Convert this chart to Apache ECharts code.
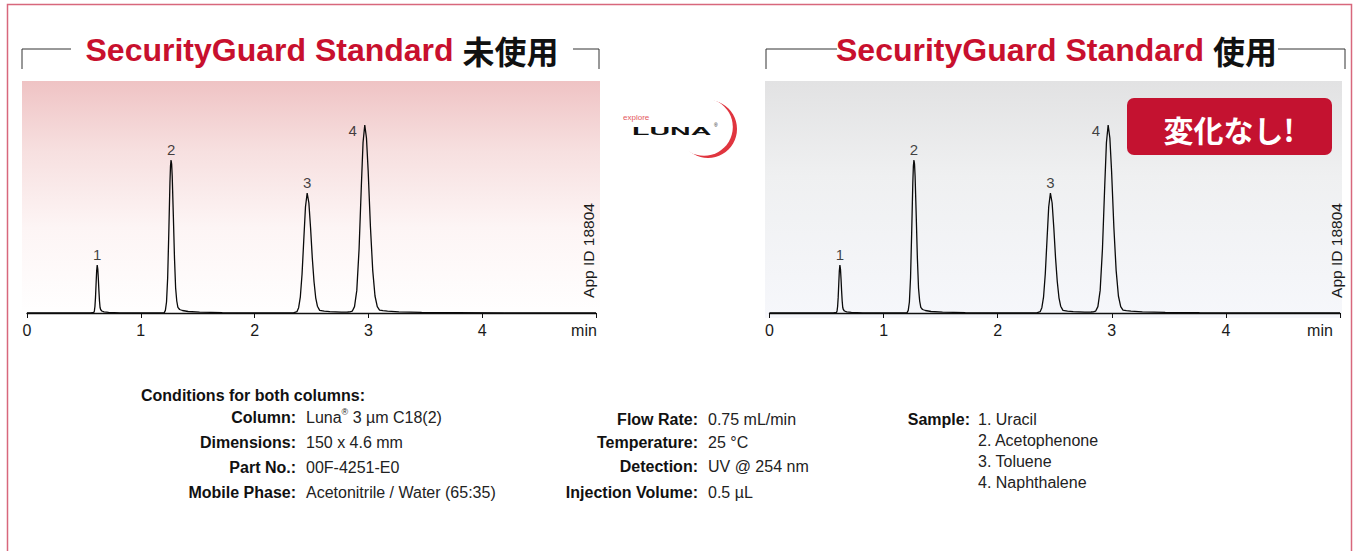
<!DOCTYPE html>
<html><head><meta charset="utf-8">
<script src="https://cdn.jsdelivr.net/npm/echarts@6/dist/echarts.min.js"></script>
<style>html,body{margin:0;padding:0;background:#fff;overflow:hidden}#c{width:1356px;height:551px}</style>
</head><body><div id="c"></div>
<script>
// ---- data (time in min, detector signal in arbitrary units) ----
const timeMin = [0.000,0.560,0.587,0.592,0.597,0.602,0.607,0.612,0.617,0.622,0.627,0.632,0.637,0.642,0.647,0.657,0.677,0.717,0.817,1.000,
  1.150,1.206,1.216,1.226,1.236,1.246,1.256,1.261,1.266,1.271,1.276,1.286,1.296,1.306,1.316,1.326,1.341,1.366,1.416,1.516,1.716,2.000,
  2.300,2.342,2.372,2.387,2.402,2.417,2.432,2.447,2.462,2.477,2.492,2.507,2.522,2.537,2.552,2.572,2.612,2.662,2.762,2.818,
  2.838,2.858,2.878,2.898,2.918,2.938,2.953,2.968,2.983,2.998,3.018,3.038,3.058,3.078,3.098,3.128,3.168,3.268,3.468,3.768,4.200,5.000];
const signal = [0,0,0.6,2.1,6.5,15.6,29,42,48,44,34,22,12,5.5,3.5,2,1.2,0.6,0.2,0,
  0,0.4,2.6,11,35,80,130,147,153,149,137,97,55,25,12,5.6,3.5,2.5,1.5,0.8,0.3,0,
  0,0.2,1.3,5.3,16.2,39,72.8,106,120,110,84.8,55,31.5,15.2,6.8,2.6,1.8,1.3,0.9,1.0,
  1.2,1.8,6.4,22.6,63.8,127,170.5,188,175,142,86,42.6,17,6.3,2.9,2.4,1.8,1.2,0.6,0.3,0.1,0];
const peakNames = ['1','2','3','4'];
const peakTimes = [0.617,1.266,2.462,2.968];
const peakHeights = [48,153,120,188];
const xTickLabels = ['0','1','2','3','4','min'];
const panelNames = ['SecurityGuard Standard','SecurityGuard Standard'];
const panelSuffix = ['未使用','使用'];
const badgeText = '変化なし!';
const appId = 'App ID 18804';
const condHeader = 'Conditions for both columns:';
const condLabels1 = ['Column:','Dimensions:','Part No.:','Mobile Phase:'];
const condValues1 = ['{v|Luna}{s|®}{v| 3 µm C18(2)}','150 x 4.6 mm','00F-4251-E0','Acetonitrile / Water (65:35)'];
const condLabels2 = ['Flow Rate:','Temperature:','Detection:','Injection Volume:'];
const condValues2 = ['0.75 mL/min','25 °C','UV @ 254 nm','0.5 µL'];
const sampleLabel = 'Sample:';
const sampleValues = ['1. Uracil','2. Acetophenone','3. Toluene','4. Naphthalene'];

const FONT = 'Liberation Sans, Arial, Helvetica, sans-serif';
const CJK = 'Noto Sans CJK JP, Liberation Sans, sans-serif';
const trace = timeMin.map((t, i) => [t, signal[i]]);

function xAxisFor(gi, minPad) {
  return {
    type: 'value', gridIndex: gi, min: 0, max: 5, interval: 1,
    axisLine: { show: true, lineStyle: { color: '#111', width: 1.3 } },
    axisTick: { show: true, length: 5, lineStyle: { color: '#111', width: 1 } },
    splitLine: { show: false },
    axisLabel: {
      color: '#1a1a1a', fontSize: 16, fontFamily: FONT, margin: 4,
      formatter: v => { const s = xTickLabels[Math.round(v)]; return s === 'min' ? '{m|min}' : s; },
      rich: { m: { fontSize: 16, fontFamily: FONT, color: '#1a1a1a', padding: [0, minPad, 0, 0] } }
    }
  };
}
function yAxisFor(gi) {
  return { type: 'value', gridIndex: gi, min: -5, max: 232, show: false };
}
function traceSeries(gi) {
  return { type: 'line', xAxisIndex: gi, yAxisIndex: gi, data: trace, showSymbol: false, symbol: 'none',
    smooth: false, sampling: null, lineStyle: { color: '#0a0a0a', width: 1.3 }, z: 5, silent: true, animation: false };
}
function labelSeries(gi) {
  return { type: 'scatter', xAxisIndex: gi, yAxisIndex: gi, symbolSize: 0, z: 6, silent: true, animation: false,
    data: peakTimes.map((t, i) => i === 3
      ? { value: [t, peakHeights[i]], label: { position: 'left', distance: 8, offset: [0, 5] } }
      : { value: [t, peakHeights[i]] }),
    label: { show: true, position: 'top', distance: 3, fontSize: 15, fontFamily: FONT, color: '#111',
      formatter: p => peakNames[p.dataIndex] } };
}

const g = [];
// outer frame
g.push({ type: 'rect', z: 0, shape: { x: 7.5, y: 4.5, width: 1344, height: 700 }, style: { fill: 'none', stroke: '#d8677c', lineWidth: 1.5 } });
// panel backgrounds
g.push({ type: 'rect', z: 0, shape: { x: 22, y: 81, width: 578, height: 237 },
  style: { fill: { type: 'linear', x: 0, y: 0, x2: 0, y2: 1, colorStops: [
    { offset: 0, color: '#efc3c4' }, { offset: 0.3, color: '#f7e0e0' }, { offset: 0.62, color: '#fdf5f5' }, { offset: 1, color: '#ffffff' }] } } });
g.push({ type: 'rect', z: 0, shape: { x: 765, y: 81, width: 577, height: 237 },
  style: { fill: { type: 'linear', x: 0, y: 0, x2: 0, y2: 1, colorStops: [
    { offset: 0, color: '#e2e2e3' }, { offset: 0.4, color: '#eff0f1' }, { offset: 1, color: '#f6f7fb' }] } } });
// title brackets
const br = [[[22,69],[22,49],[71,49]], [[573,49],[599,49],[599,69]], [[766,69],[766,49],[837,49]], [[1278,49],[1345,49],[1345,69]]];
br.forEach(p => g.push({ type: 'polyline', z: 1, shape: { points: p }, style: { stroke: '#333', lineWidth: 1, fill: 'none' } }));
// titles
const titleRich = {
  r: { fill: '#c8102e', fontWeight: 'bold', fontSize: 32, fontFamily: FONT },
  k: { fill: '#111111', fontWeight: 'bold', fontSize: 32, fontFamily: CJK }
};
[[322, 0], [1056.5, 1]].forEach(([cx, i]) => g.push({ type: 'text', z: 2, x: cx, y: 50,
  style: { text: '{r|' + panelNames[i] + '\u00a0}{k|' + panelSuffix[i] + '}', rich: titleRich, align: 'center', verticalAlign: 'middle' } }));
// badge
g.push({ type: 'rect', z: 3, shape: { x: 1127, y: 98, width: 205, height: 57, r: 7 }, style: { fill: '#c41230' } });
g.push({ type: 'text', z: 4, x: 1229, y: 129, style: { text: badgeText, fill: '#fff', fontSize: 30, fontWeight: 'bold', fontFamily: CJK, align: 'center', verticalAlign: 'middle' } });
// App ID
[588, 1336].forEach(x => g.push({ type: 'text', z: 4, x: x, y: 250.5, rotation: Math.PI / 2,
  style: { text: appId, fill: '#1a1a1a', fontSize: 15.5, fontFamily: FONT, align: 'center', verticalAlign: 'middle' } }));
// Luna logo
g.push({ type: 'circle', z: 1, shape: { cx: 708, cy: 129, r: 29 }, style: { fill: '#e0353f' } });
g.push({ type: 'circle', z: 1, shape: { cx: 704, cy: 127, r: 28.8 }, style: { fill: '#ffffff' } });
g.push({ type: 'text', z: 2, x: 623, y: 117, style: { text: 'explore', fill: '#e4575c', fontSize: 8, fontFamily: FONT, align: 'left', verticalAlign: 'middle' } });
g.push({ type: 'text', z: 2, x: 632, y: 131, scaleX: 2.6, scaleY: 1, style: { text: 'LUNA', fill: '#111', fontSize: 11, fontWeight: 'bold', fontFamily: FONT, align: 'left', verticalAlign: 'middle' } });
g.push({ type: 'text', z: 2, x: 714, y: 125, style: { text: '®', fill: '#111', fontSize: 5, fontFamily: FONT, align: 'left', verticalAlign: 'middle' } });
// conditions
const lab = (x, y, t) => g.push({ type: 'text', z: 2, x, y, style: { text: t, fill: '#111', fontSize: 16, fontWeight: 'bold', fontFamily: FONT, align: 'right', verticalAlign: 'middle' } });
const val = (x, y, t) => g.push({ type: 'text', z: 2, x, y, style: { text: t, fill: '#222', fontSize: 16, fontFamily: FONT, align: 'left', verticalAlign: 'middle',
  rich: { v: { fontSize: 16, fontFamily: FONT, fill: '#222', lineHeight: 20 }, s: { fontSize: 9, fontFamily: FONT, fill: '#222', verticalAlign: 'top', lineHeight: 10 } } } });
g.push({ type: 'text', z: 2, x: 141, y: 395, style: { text: condHeader, fill: '#111', fontSize: 16, fontWeight: 'bold', fontFamily: FONT, align: 'left', verticalAlign: 'middle' } });
const rows1 = [417, 442, 467, 492];
condLabels1.forEach((t, i) => { lab(296, rows1[i], t); val(306, rows1[i], condValues1[i]); });
const rows2 = [419, 442, 466, 492];
condLabels2.forEach((t, i) => { lab(698, rows2[i], t); val(708, rows2[i], condValues2[i]); });
lab(970, 419, sampleLabel);
const rows3 = [419, 440, 461.5, 482];
sampleValues.forEach((t, i) => val(978, rows3[i], t));

const chart = echarts.init(document.getElementById('c'), null, { renderer: 'svg' });
chart.setOption({
  animation: false,
  backgroundColor: '#ffffff',
  textStyle: { fontFamily: FONT },
  grid: [
    { left: 27, right: 760, top: 81, bottom: 233 },
    { left: 769.5, right: 16, top: 81, bottom: 233 }
  ],
  xAxis: [xAxisFor(0, 24), xAxisFor(1, 40)],
  yAxis: [yAxisFor(0), yAxisFor(1)],
  series: [traceSeries(0), labelSeries(0), traceSeries(1), labelSeries(1)],
  graphic: { elements: g }
});
</script>
</body></html>
